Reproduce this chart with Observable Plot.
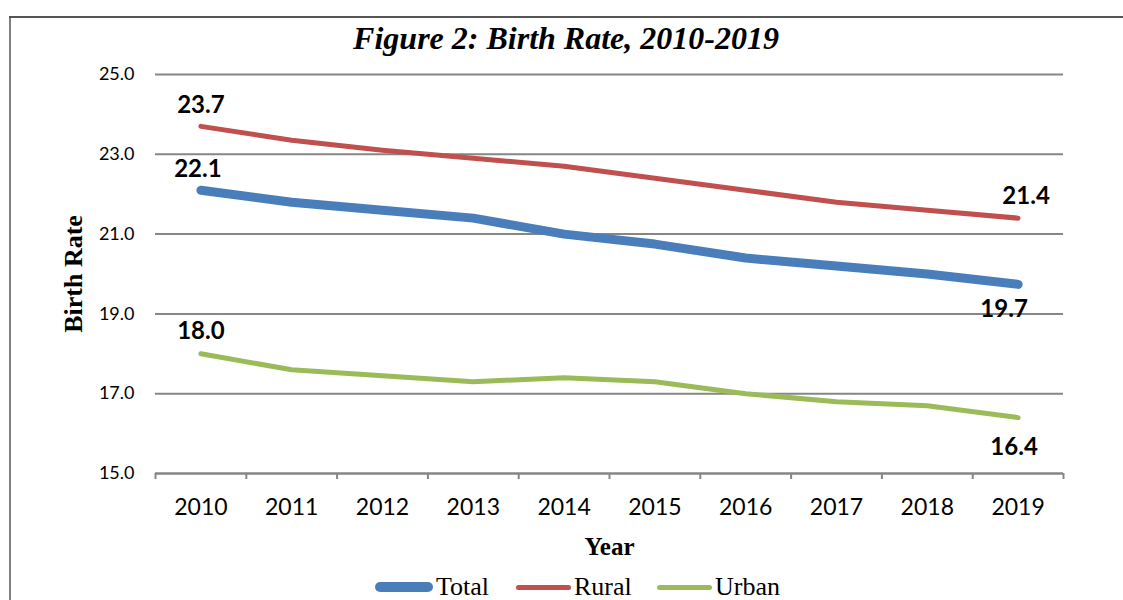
<!DOCTYPE html>
<html>
<head>
<meta charset="utf-8">
<script src="https://cdn.jsdelivr.net/npm/d3@7"></script>
<script src="https://cdn.jsdelivr.net/npm/@observablehq/plot@0.6"></script>
<style>
  html, body { margin: 0; padding: 0; background: #fff; }
  #wrap { position: relative; width: 1123px; height: 600px; overflow: hidden; background: #fff; }
  #frameL { position: absolute; left: 9px; top: 17px; width: 2px; height: 600px; background: #808080; }
  #frameT { position: absolute; left: 9px; top: 16px; width: 1114px; height: 2px; background: #555; }
  #title { position: absolute; left: 0; width: 1132px; top: 20px; text-align: center;
           font-family: "Liberation Serif", "Times New Roman", serif; font-weight: bold; font-style: italic;
           font-size: 32px; color: #000; }
  #chart { position: absolute; left: 0; top: 0; }
  #legend { position: absolute; top: 572px; left: 0; width: 1123px; height: 30px;
            font-family: "Liberation Serif", "Times New Roman", serif; font-size: 26px; color: #000; }
  .item { position: absolute; top: 0; display: flex; align-items: center; height: 30px; }
  .sw { display: inline-block; border-radius: 6px; margin-right: 3px; }
</style>
</head>
<body>
<div id="wrap">
  <div id="frameL"></div>
  <div id="frameT"></div>
  <div id="chart"></div>
  <div id="title">Figure 2: Birth Rate, 2010-2019</div>
  <div id="legend"></div>
</div>
<script>
const years = [2010, 2011, 2012, 2013, 2014, 2015, 2016, 2017, 2018, 2019];
const total = [22.1, 21.8, 21.6, 21.4, 21.0, 20.75, 20.4, 20.2, 20.0, 19.74];
const rural = [23.7, 23.35, 23.1, 22.9, 22.7, 22.4, 22.1, 21.8, 21.6, 21.4];
const urban = [18.0, 17.6, 17.45, 17.3, 17.4, 17.3, 17.0, 16.8, 16.7, 16.4];
const seriesNames = ["Total", "Rural", "Urban"];
const seriesColors = ["#4a7ebb", "#c0504d", "#9bbb59"];
const yTicks = [15, 17, 19, 21, 23, 25];

const rows = (vals, name) => years.map((yr, i) => ({year: yr, value: vals[i], series: name}));
const totalRows = rows(total, "Total");
const ruralRows = rows(rural, "Rural");
const urbanRows = rows(urban, "Urban");
const fmt = d3.format(".1f");
const boundaries = years.map(y => y - 0.5).concat([years[years.length - 1] + 0.5]);

const labelStyle = {x: "year", y: "value", text: d => fmt(d.value), fontFamily: "Lato, 'Open Sans', sans-serif",
  fontWeight: "bold", fontSize: 24, fill: "#000"};

const chart = Plot.plot({
  width: 1123,
  height: 560,
  marginLeft: 155,
  marginRight: 60,
  marginTop: 74,
  marginBottom: 87,
  style: {fontFamily: "Lato, 'Open Sans', sans-serif", color: "#000", background: "transparent"},
  x: {domain: [years[0] - 0.5, years[years.length - 1] + 0.5]},
  y: {domain: [15, 25]},
  marks: [
    Plot.gridY(yTicks, {stroke: "#868686", strokeOpacity: 1, strokeWidth: 2}),
    Plot.axisY(yTicks, {tickSize: 0, tickPadding: 21, tickFormat: fmt, fontSize: 18, label: null}),
    Plot.ruleY([15], {stroke: "#868686", strokeWidth: 2}),
    Plot.axisX(boundaries, {tickSize: 6, tickFormat: () => "", stroke: "#868686", strokeWidth: 2, label: null}),
    Plot.axisX(years, {tickSize: 0, tickPadding: 25, tickFormat: d => String(d), fontSize: 23, label: null}),
    Plot.line(ruralRows, {x: "year", y: "value", stroke: seriesColors[1], strokeWidth: 5, strokeLinecap: "round", strokeLinejoin: "round"}),
    Plot.line(urbanRows, {x: "year", y: "value", stroke: seriesColors[2], strokeWidth: 5, strokeLinecap: "round", strokeLinejoin: "round"}),
    Plot.line(totalRows, {x: "year", y: "value", stroke: seriesColors[0], strokeWidth: 9, strokeLinecap: "round", strokeLinejoin: "round"}),
    Plot.text([ruralRows[0]], {...labelStyle, dy: -21}),
    Plot.text([totalRows[0]], {...labelStyle, dx: -3, dy: -21}),
    Plot.text([urbanRows[0]], {...labelStyle, dy: -22}),
    Plot.text([ruralRows[ruralRows.length - 1]], {...labelStyle, dx: 8, dy: -22}),
    Plot.text([totalRows[totalRows.length - 1]], {...labelStyle, dx: -14, dy: 25}),
    Plot.text([urbanRows[urbanRows.length - 1]], {...labelStyle, dx: -4, dy: 30}),
    Plot.text(["Year"], {frameAnchor: "bottom", dy: 73, text: d => d, lineAnchor: "middle", fontFamily: "'Liberation Serif', 'Times New Roman', serif",
      fontWeight: "bold", fontSize: 25, fill: "#000"}),
    Plot.text(["Birth Rate"], {frameAnchor: "left", dx: -82, rotate: -90, textAnchor: "middle", text: d => d,
      fontFamily: "'Liberation Serif', 'Times New Roman', serif", fontWeight: "bold", fontSize: 26, fill: "#000"})
  ]
});
document.getElementById("chart").appendChild(chart);

const legend = document.getElementById("legend");
const legendLayout = [
  {left: 375, w: 58, h: 10},
  {left: 516, w: 55, h: 5},
  {left: 657, w: 55, h: 5}
];
seriesNames.forEach((name, i) => {
  const item = document.createElement("div");
  item.className = "item";
  item.style.left = legendLayout[i].left + "px";
  const sw = document.createElement("span");
  sw.className = "sw";
  sw.style.width = legendLayout[i].w + "px";
  sw.style.height = legendLayout[i].h + "px";
  sw.style.background = seriesColors[i];
  item.appendChild(sw);
  const t = document.createElement("span");
  t.textContent = name;
  item.appendChild(t);
  legend.appendChild(item);
});
</script>
</body>
</html>
